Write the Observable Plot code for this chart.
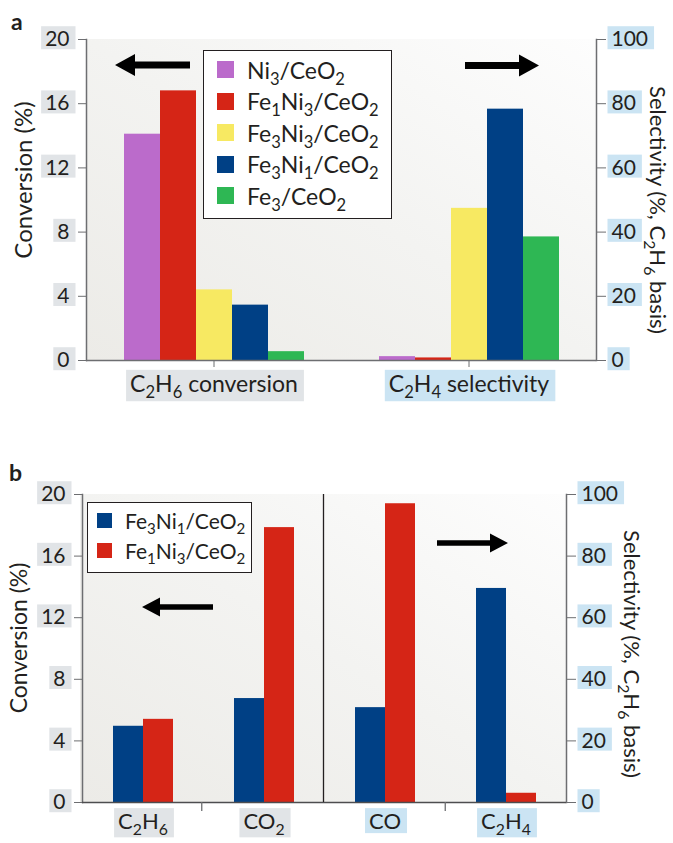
<!DOCTYPE html>
<html>
<head>
<meta charset="utf-8">
<script src="https://cdn.jsdelivr.net/npm/d3@7"></script>
<script src="https://cdn.jsdelivr.net/npm/@observablehq/plot@0.6"></script>
<style>
  body { margin: 0; background: #fff; font-family: Lato, "Open Sans", sans-serif; color: #231f20; }
  #root { position: relative; width: 673px; height: 843px; overflow: hidden; background: #fff; }
  .bg { position: absolute; background: linear-gradient(to top right, #ecebe7 0%, #f3f3f1 50%, #fdfdfd 100%); }
  .panel { position: absolute; left: 0; }
  .letter { position: absolute; font-weight: 700; font-size: 23px; line-height: 1; }
  .legend { position: absolute; border: 1.3px solid #231f20; background: #fff; box-sizing: border-box; }
  .legend .row { display: flex; align-items: center; white-space: nowrap; }
  .legend .sw { flex: none; }
  .legend sub { font-size: 0.72em; vertical-align: -0.36em; line-height: 0; }
</style>
</head>
<body>
<div id="root"></div>
<script>
// ---------------- data ----------------
const groupsA = ["C_2H_6 conversion", "C_2H_4 selectivity"];
const catalystsA = ["Ni_3/CeO_2", "Fe_1Ni_3/CeO_2", "Fe_3Ni_3/CeO_2", "Fe_3Ni_1/CeO_2", "Fe_3/CeO_2"];
const colorsA = ["#bb6bcb", "#d52516", "#f7e962", "#004085", "#2eb754"];
const conversionA = [14.1, 16.8, 4.4, 3.45, 0.55];   // %
const selectivityA = [1.2, 0.8, 47.4, 78.3, 38.5];   // %, C2H6 basis
const convTicks = [0, 4, 8, 12, 16, 20];
const selTicks = [0, 20, 40, 60, 80, 100];

const categoriesB = ["C_2H_6", "CO_2", "CO", "C_2H_4"];
const measureB = ["conversion", "conversion", "selectivity", "selectivity"];
const catalystsB = ["Fe_3Ni_1/CeO_2", "Fe_1Ni_3/CeO_2"];
const colorsB = ["#004085", "#d52516"];
const fe3ni1B = [4.95, 6.75, 30.8, 69.5];
const fe1ni3B = [5.4, 17.85, 97.0, 3.0];

const convLabel = "Conversion (%)";
const selLabel = "Selectivity (%, C_2H_6 basis)";

// selectivity axis (0–100) shares the plot with the conversion axis (0–20)
const SCALE = 20 / 100;

// ---------------- helpers ----------------
const NS = "http://www.w3.org/2000/svg";
const FONT = "Lato, 'Open Sans', sans-serif";
const INK = "#231f20";
const AXIS = "#6d6e71";
const GRAYBOX = "#e1e4e7";
const BLUEBOX = "#cbe4f3";

function toHTML(s) { return s.replace(/_(\d)/g, "<sub>$1</sub>"); }

function setRich(t, s) {
  const fs = parseFloat(getComputedStyle(t).fontSize);
  while (t.firstChild) t.removeChild(t.firstChild);
  const parts = s.split(/_(\d)/);
  let shifted = false;
  parts.forEach((p, i) => {
    if (p === "") return;
    const ts = document.createElementNS(NS, "tspan");
    ts.textContent = p;
    if (i % 2 === 1) {
      ts.setAttribute("font-size", (0.72 * fs).toFixed(1));
      ts.setAttribute("dy", (0.28 * fs).toFixed(1));
      shifted = true;
    } else if (shifted) {
      ts.setAttribute("dy", (-0.28 * fs).toFixed(1));
      shifted = false;
    }
    t.appendChild(ts);
  });
}

function subscriptify(svg) {
  svg.querySelectorAll("text").forEach(t => {
    const s = t.textContent;
    if (s.includes("_")) setRich(t, s);
  });
}

function addBoxes(svg, splitX, padL, padR, padV) {
  const sr = svg.getBoundingClientRect();
  const g = document.createElementNS(NS, "g");
  svg.insertBefore(g, svg.firstChild ? svg.firstChild.nextSibling : null);
  svg.querySelectorAll('g[aria-label$="tick label"] text').forEach(t => {
    const r = t.getBoundingClientRect();
    const x = r.left - sr.left, y = r.top - sr.top;
    const rect = document.createElementNS(NS, "rect");
    rect.setAttribute("x", x - padL);
    rect.setAttribute("y", y + padV);
    rect.setAttribute("width", r.width + padL + padR);
    rect.setAttribute("height", r.height - 2 * padV);
    rect.setAttribute("fill", (x + r.width / 2) < splitX ? GRAYBOX : BLUEBOX);
    g.appendChild(rect);
  });
}

function arrow(svg, tail, tip, y, headLen, headHalf, shaftHalf) {
  const d = Math.sign(tip - tail);
  const hb = tip - d * headLen;
  const pts = [[tail, y - shaftHalf], [hb, y - shaftHalf], [hb, y - headHalf], [tip, y],
               [hb, y + headHalf], [hb, y + shaftHalf], [tail, y + shaftHalf]];
  d3.select(svg).append("polygon").attr("points", pts.map(p => p.join(",")).join(" ")).attr("fill", "#000");
}

function title(svg, text, x, y, rot, size) {
  d3.select(svg).append("text")
    .attr("transform", `translate(${x},${y}) rotate(${rot})`)
    .attr("text-anchor", "middle")
    .attr("font-size", size)
    .attr("fill", INK)
    .text(text);
  subscriptify(svg);
}

function legend(root, items, colors, box) {
  const div = document.createElement("div");
  div.className = "legend";
  Object.assign(div.style, {left: box.left + "px", top: box.top + "px", width: box.width + "px",
    height: box.height + "px", paddingTop: box.padTop + "px", fontSize: box.fontSize + "px"});
  items.forEach((name, i) => {
    const row = document.createElement("div");
    row.className = "row";
    row.style.height = box.rowH + "px";
    row.innerHTML = `<span class="sw" style="width:${box.sw}px;height:${box.sw}px;background:${colors[i]};margin-left:${box.swLeft}px;margin-right:${box.gap}px"></span><span>${toHTML(name)}</span>`;
    div.appendChild(row);
  });
  root.appendChild(div);
}

const root = document.getElementById("root");

// ---------------- panel a ----------------
const dataA = [];
catalystsA.forEach((c, i) => {
  dataA.push({group: groupsA[0], catalyst: c, value: conversionA[i]});
  dataA.push({group: groupsA[1], catalyst: c, value: selectivityA[i] * SCALE});
});

const A = {top: 0, width: 673, height: 410, ml: 86, mr: 77, mt: 39, mb: 50};
const bgA = document.createElement("div");
bgA.className = "bg";
Object.assign(bgA.style, {left: A.ml + "px", top: (A.top + A.mt) + "px",
  width: (A.width - A.ml - A.mr) + "px", height: (A.height - A.mt - A.mb) + "px"});
root.appendChild(bgA);

const plotA = Plot.plot({
  width: A.width, height: A.height,
  marginLeft: A.ml, marginRight: A.mr, marginTop: A.mt, marginBottom: A.mb,
  style: {background: "transparent", fontFamily: FONT, fontSize: "21px", color: INK, overflow: "visible"},
  fx: {domain: groupsA, paddingInner: 0, paddingOuter: 0, label: null},
  x: {domain: catalystsA, paddingInner: 0, paddingOuter: 1.04, axis: null},
  y: {domain: [0, 20], axis: null},
  color: {domain: catalystsA, range: colorsA},
  marks: [
    Plot.barY(dataA, {fx: "group", x: "catalyst", y: "value", fill: "catalyst"}),
    Plot.frame({anchor: "left", facetAnchor: "left", stroke: AXIS, strokeWidth: 1.5}),
    Plot.frame({anchor: "right", facetAnchor: "right", stroke: AXIS, strokeWidth: 1.5}),
    Plot.ruleY([0], {stroke: AXIS, strokeWidth: 1.5}),
    Plot.axisY({anchor: "left", ticks: convTicks, tickSize: 8, tickPadding: 9, stroke: AXIS, label: null}),
    Plot.axisY({anchor: "right", ticks: selTicks.map(v => v * SCALE), tickFormat: v => String(Math.round(v / SCALE)),
      tickSize: 9, tickPadding: 6, stroke: AXIS, label: null}),
    Plot.axisFx({anchor: "bottom", tickSize: 7, tickPadding: 8, stroke: AXIS, label: null, fontSize: 23})
  ]
});
plotA.classList.add("panel");
plotA.style.top = A.top + "px";
root.appendChild(plotA);
subscriptify(plotA);
addBoxes(plotA, (A.ml + A.width - A.mr) / 2, 4, 6, 1);
title(plotA, convLabel, 32, 180, -90, 24);
title(plotA, selLabel, 650, 210, 90, 22);
arrow(plotA, 190, 115, 65, 20, 11, 3.4);
arrow(plotA, 465, 539, 65.5, 20, 11, 3.4);

legend(root, catalystsA, colorsA, {left: 203, top: 50, width: 189, height: 169, padTop: 3, rowH: 31.5,
  sw: 17, swLeft: 13, gap: 13, fontSize: 23});

// ---------------- panel b ----------------
const seriesB = [fe3ni1B, fe1ni3B];
const dataB = [];
categoriesB.forEach((cat, j) => {
  catalystsB.forEach((c, i) => {
    dataB.push({category: cat, catalyst: c,
      value: seriesB[i][j] * (measureB[j] === "selectivity" ? SCALE : 1)});
  });
});

const B = {top: 440, width: 673, height: 403, ml: 80, mr: 106, mt: 54, mb: 41};
const bgB = document.createElement("div");
bgB.className = "bg";
Object.assign(bgB.style, {left: B.ml + "px", top: (B.top + B.mt) + "px",
  width: (B.width - B.ml - B.mr) + "px", height: (B.height - B.mt - B.mb) + "px"});
root.appendChild(bgB);

const plotB = Plot.plot({
  width: B.width, height: B.height,
  marginLeft: B.ml, marginRight: B.mr, marginTop: B.mt, marginBottom: B.mb,
  style: {background: "transparent", fontFamily: FONT, fontSize: "21px", color: INK, overflow: "visible"},
  fx: {domain: categoriesB, paddingInner: 0, paddingOuter: 0, label: null},
  x: {domain: catalystsB, paddingInner: 0, paddingOuter: 0.96, axis: null},
  y: {domain: [0, 20], axis: null},
  color: {domain: catalystsB, range: colorsB},
  marks: [
    Plot.barY(dataB, {fx: "category", x: "catalyst", y: "value", fill: "catalyst"}),
    Plot.frame({anchor: "left", facetAnchor: "left", stroke: AXIS, strokeWidth: 1.5}),
    Plot.frame({anchor: "right", facetAnchor: "right", stroke: AXIS, strokeWidth: 1.5}),
    Plot.ruleY([0], {stroke: "#4d4d4f", strokeWidth: 1.5}),
    Plot.axisY({anchor: "left", ticks: convTicks, tickSize: 8, tickPadding: 9, stroke: AXIS, label: null}),
    Plot.axisY({anchor: "right", ticks: selTicks.map(v => v * SCALE), tickFormat: v => String(Math.round(v / SCALE)),
      tickSize: 9, tickPadding: 6, stroke: AXIS, label: null}),
    Plot.axisFx({anchor: "bottom", tickSize: 0, tickPadding: 11, label: null, fontSize: 22})
  ]
});
plotB.classList.add("panel");
plotB.style.top = B.top + "px";
root.appendChild(plotB);
subscriptify(plotB);
addBoxes(plotB, (B.ml + B.width - B.mr) / 2, 4, 6, 1);

// category boundaries: divider between conversion and selectivity halves, small ticks elsewhere
{
  const step = (B.width - B.ml - B.mr) / categoriesB.length;
  const y0 = B.height - B.mb;
  const gB = d3.select(plotB).append("g");
  for (let k = 1; k < categoriesB.length; k++) {
    const x = B.ml + k * step;
    if (measureB[k] !== measureB[k - 1]) {
      gB.append("line").attr("x1", x).attr("x2", x).attr("y1", B.mt).attr("y2", y0).attr("stroke", INK).attr("stroke-width", 1.3);
    } else {
      gB.append("line").attr("x1", x).attr("x2", x).attr("y1", y0).attr("y2", y0 + 9).attr("stroke", AXIS).attr("stroke-width", 1.3);
    }
  }
}
title(plotB, convLabel, 27, 198, -90, 23);
title(plotB, selLabel, 624, 214, 90, 22);
arrow(plotB, 213, 142, 167, 18, 9.5, 2.8);
arrow(plotB, 437, 508, 103, 18, 9.5, 2.8);

legend(root, catalystsB, colorsB, {left: 87, top: 502, width: 165, height: 71, padTop: 2, rowH: 30,
  sw: 15, swLeft: 9, gap: 13, fontSize: 21});

// panel letters
[["a", 11, 10], ["b", 9, 461]].forEach(([s, x, y]) => {
  const d = document.createElement("div");
  d.className = "letter";
  d.textContent = s;
  d.style.left = x + "px";
  d.style.top = y + "px";
  root.appendChild(d);
});
</script>
</body>
</html>
